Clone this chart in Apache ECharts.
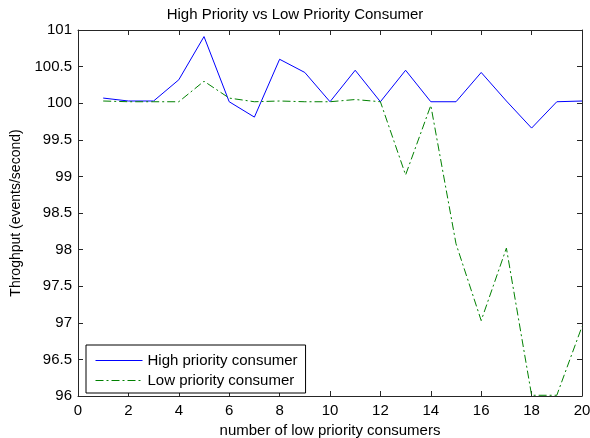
<!DOCTYPE html>
<html>
<head>
<meta charset="utf-8">
<script src="https://cdn.jsdelivr.net/npm/echarts@6/dist/echarts.min.js"></script>
<style>
html,body{margin:0;padding:0;background:#fff;}
#c{width:590px;height:438px;}
</style>
</head>
<body>
<div id="c"></div>
<script>
const xValues = [1,2,3,4,5,6,7,8,9,10,11,12,13,14,15,16,17,18,19,20];
const highPriority = [100.07,100.03,100.03,100.32,100.91,100.02,99.81,100.6,100.42,100.02,100.45,100.02,100.45,100.02,100.02,100.42,100.03,99.66,100.02,100.03];
const lowPriority = [100.03,100.02,100.02,100.02,100.3,100.07,100.02,100.03,100.02,100.02,100.05,100.02,99.02,99.97,98.08,97.03,98.02,96.01,96.01,96.95];
const seriesNames = ['High priority consumer','Low priority consumer'];
const titleText = 'High Priority vs Low Priority Consumer';
const xLabel = 'number of low priority consumers';
const yLabel = 'Throghput (events/second)';

const FONT = '"Liberation Sans", Arial, Helvetica, sans-serif';
const AX = '#262626';
const pair = arr => xValues.map((x,i)=>[x,arr[i]]);

const chart = echarts.init(document.getElementById('c'), null, {renderer:'canvas'});
const baseX = {
  type:'value', min:0, max:20, interval:2,
  axisLine:{show:true, onZero:false, lineStyle:{color:AX,width:1}},
  axisTick:{show:true, inside:true, length:5, lineStyle:{color:AX}},
  splitLine:{show:false}
};
const baseY = {
  type:'value', min:96, max:101, interval:0.5,
  axisLine:{show:true, onZero:false, lineStyle:{color:AX,width:1}},
  axisTick:{show:true, inside:true, length:5, lineStyle:{color:AX}},
  splitLine:{show:false}
};
chart.setOption({
  animation:false,
  backgroundColor:'#fff',
  textStyle:{fontFamily:FONT},
  title:{text:titleText, left:'center', top:2,
    textStyle:{fontFamily:FONT,fontSize:15,fontWeight:'normal',color:'#000'}},
  grid:{left:78, right:8, top:30, bottom:42, containLabel:false, outerBoundsMode:'none'},
  legend:{
    orient:'vertical', left:86, top:345,
    padding:[8,8,5,9], itemGap:5, itemWidth:47, itemHeight:14,
    itemStyle:{opacity:0},
    lineStyle:{width:1},
    borderColor:'#000', borderWidth:1, backgroundColor:'#fff',
    textStyle:{fontFamily:FONT,fontSize:15,color:'#000'},
    data:seriesNames
  },
  xAxis:[
    Object.assign({}, baseX, {position:'bottom',
      name:xLabel, nameLocation:'middle', nameGap:22,
      nameTextStyle:{fontFamily:FONT,fontSize:15,color:'#000'},
      axisLabel:{show:true, margin:7, fontFamily:FONT, fontSize:15, color:'#000'}}),
    Object.assign({}, baseX, {position:'top', axisLabel:{show:false}})
  ],
  yAxis:[
    Object.assign({}, baseY, {position:'left',
      name:yLabel, nameLocation:'middle', nameGap:44,
      nameTextStyle:{fontFamily:FONT,fontSize:14,color:'#000'},
      axisLabel:{show:true, margin:6, fontFamily:FONT, fontSize:15, color:'#000'}}),
    Object.assign({}, baseY, {position:'right', axisLabel:{show:false}})
  ],
  series:[
    {name:seriesNames[0], type:'line', data:pair(highPriority), symbol:'none', showSymbol:false,
     xAxisIndex:0, yAxisIndex:0, color:'#0000ff',
     lineStyle:{color:'#0000ff', width:1, type:'solid'}},
    {name:seriesNames[1], type:'line', data:pair(lowPriority), symbol:'none', showSymbol:false,
     xAxisIndex:0, yAxisIndex:0, color:'#008000',
     lineStyle:{color:'#008000', width:1, type:[8,3,2,3]}}
  ]
});
</script>
</body>
</html>
